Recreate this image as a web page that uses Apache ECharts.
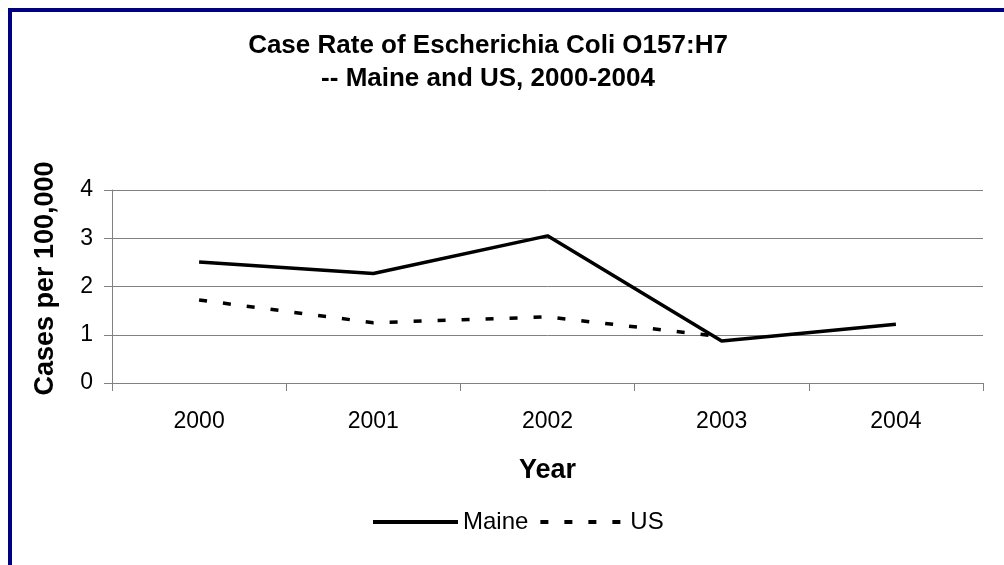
<!DOCTYPE html>
<html>
<head>
<meta charset="utf-8">
<script src="https://cdn.jsdelivr.net/npm/echarts@6/dist/echarts.min.js"></script>
<style>
html,body{margin:0;padding:0;background:#fff;}
#c{width:1004px;height:565px;}
</style>
</head>
<body>
<div id="c"></div>
<script>
const years = ['2000', '2001', '2002', '2003', '2004'];
const maine = [2.51, 2.27, 3.05, 0.87, 1.22];
const us = [1.72, 1.25, 1.37, 0.96, null];
const yTicks = [0, 1, 2, 3, 4];

const chart = echarts.init(document.getElementById('c'), null, {renderer: 'canvas'});
const font = 'Liberation Sans, Arial, sans-serif';
chart.setOption({
  animation: false,
  backgroundColor: '#ffffff',
  graphic: [
    {type: 'rect', shape: {x: 8, y: 8, width: 996, height: 4}, style: {fill: '#000080'}, z: 100},
    {type: 'rect', shape: {x: 8, y: 8, width: 4, height: 557}, style: {fill: '#000080'}, z: 100}
  ],
  title: {
    text: 'Case Rate of Escherichia Coli O157:H7\n-- Maine and US, 2000-2004',
    left: 483,
    textAlign: 'center',
    top: 24,
    textStyle: {fontFamily: font, fontWeight: 'bold', fontSize: 26, color: '#000', lineHeight: 33}
  },
  legend: {
    top: 505,
    left: 366,
    itemWidth: 85,
    itemHeight: 14,
    itemGap: 10,
    itemStyle: {opacity: 0},
    lineStyle: {width: 4},
    textStyle: {fontFamily: font, fontSize: 24, color: '#000', lineHeight: 24},
    data: ['Maine', 'US']
  },
  grid: {left: 112, right: 21, top: 190, bottom: 182},
  xAxis: {
    type: 'category',
    data: years,
    boundaryGap: true,
    name: 'Year',
    nameLocation: 'middle',
    nameGap: 74,
    nameTextStyle: {fontFamily: font, fontWeight: 'bold', fontSize: 27, color: '#000'},
    axisLine: {lineStyle: {color: '#808080', width: 1}},
    axisTick: {show: true, length: 8, interval: 0, lineStyle: {color: '#808080'}},
    axisLabel: {fontFamily: font, fontSize: 23, color: '#000', margin: 27, interval: 0}
  },
  yAxis: {
    type: 'value',
    min: yTicks[0],
    max: yTicks[yTicks.length - 1],
    interval: 1,
    name: 'Cases per 100,000',
    nameLocation: 'middle',
    nameGap: 53,
    nameTextStyle: {fontFamily: font, fontWeight: 'bold', fontSize: 27, color: '#000', padding: [0, 0, 0, 16]},
    axisLine: {show: true, lineStyle: {color: '#808080', width: 1}},
    axisTick: {show: true, length: 8, lineStyle: {color: '#808080'}},
    splitLine: {show: true, lineStyle: {color: '#808080', width: 1}},
    axisLabel: {fontFamily: font, fontSize: 23, color: '#000', margin: 19}
  },
  series: [
    {
      name: 'Maine', type: 'line', data: maine, symbol: 'none',
      lineStyle: {color: '#000', width: 3.5, type: 'solid'},
      itemStyle: {color: '#000'}
    },
    {
      name: 'US', type: 'line', data: us, symbol: 'none',
      lineStyle: {color: '#000', width: 3.5, type: [8, 16]},
      itemStyle: {color: '#000'}
    }
  ]
});
</script>
</body>
</html>
